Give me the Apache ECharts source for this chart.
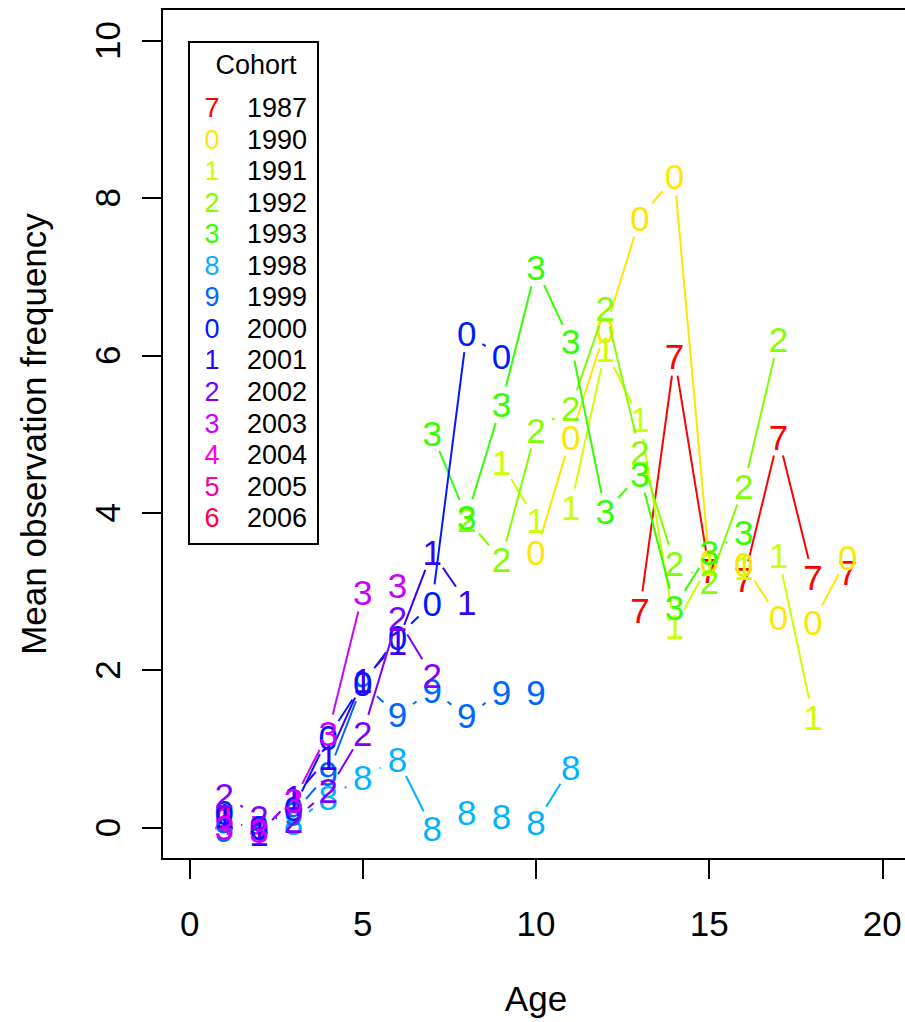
<!DOCTYPE html>
<html>
<head>
<meta charset="utf-8">
<script src="https://cdn.jsdelivr.net/npm/echarts@6/dist/echarts.min.js"></script>
<style>
html,body{margin:0;padding:0;background:#fff;overflow:hidden;}
#chart{width:905px;height:1022px;}
</style>
</head>
<body>
<div id="chart"></div>
<script>
// ---- data ----
var cohorts = ['1987','1990','1991','1992','1993','1998','1999','2000','2001','2002','2003','2004','2005','2006'];
var symbolsChar = ['7','0','1','2','3','8','9','0','1','2','3','4','5','6'];
var colors = ['#FF0000','#FFE600','#CCFF00','#80FF00','#33FF00','#00B3FF','#0066FF','#001AFF','#3300FF','#8000FF','#CC00FF','#FF00E6','#FF0099','#FF004D'];

var ages1987 = [13,14,15,16,17,18,19];
var vals1987 = [2.76,5.98,3.27,3.15,4.96,3.18,3.24];
var ages1990 = [10,11,12,13,14,15,16,17,18,19];
var vals1990 = [3.49,4.95,6.32,7.74,8.27,3.38,3.34,2.67,2.61,3.43];
var ages1991 = [9,10,11,12,13,14,15,16,17,18];
var vals1991 = [4.64,3.90,4.07,6.07,5.18,2.55,3.35,3.30,3.45,1.40];
var ages1992 = [8,9,10,11,12,13,14,15,16,17];
var vals1992 = [3.92,3.40,5.05,5.33,6.60,4.77,3.36,3.12,4.33,6.20];
var ages1993 = [7,8,9,10,11,12,13,14,15,16];
var vals1993 = [5.01,3.94,5.37,7.11,6.17,4.01,4.49,2.80,3.50,3.75];
var ages1998 = [2,3,4,5,6,7,8,9,10,11];
var vals1998 = [0.00,0.06,0.38,0.64,0.87,-0.01,0.19,0.14,0.06,0.76];
var ages1999 = [1,2,3,4,5,6,7,8,9,10];
var vals1999 = [-0.03,0.00,0.18,0.69,1.83,1.43,1.74,1.42,1.72,1.72];
var ages2000 = [1,2,3,4,5,6,7,8,9];
var vals2000 = [0.19,0.00,0.24,1.15,1.83,2.42,2.85,6.28,5.98];
var ages2001 = [1,2,3,4,5,6,7,8];
var vals2001 = [0.15,-0.08,0.38,0.89,1.87,2.35,3.50,2.86];
var ages2002 = [1,2,3,4,5,6,7];
var vals2002 = [0.41,0.13,0.09,0.47,1.20,2.66,1.93];
var ages2003 = [1,2,3,4,5,6];
var vals2003 = [0.00,-0.04,0.34,1.20,2.98,3.08];
var ages2004 = [1,2,3];
var vals2004 = [0.06,0.00,0.30];
var ages2005 = [1,2];
var vals2005 = [0.10,0.00];
var ages2006 = [1];
var vals2006 = [0.12];

var xTicks = [0,5,10,15,20];
var yTicks = [0,2,4,6,8,10];

var agesList = [ages1987,ages1990,ages1991,ages1992,ages1993,ages1998,ages1999,ages2000,ages2001,ages2002,ages2003,ages2004,ages2005,ages2006];
var valsList = [vals1987,vals1990,vals1991,vals1992,vals1993,vals1998,vals1999,vals2000,vals2001,vals2002,vals2003,vals2004,vals2005,vals2006];
// drawing order (youngest cohorts lie underneath in the reference)
var drawOrder = [13,12,11,0,1,2,3,4,5,6,7,8,9,10];

// ---- chart ----
var FONT = '"Liberation Sans", Arial, Helvetica, sans-serif';
var GAP = 19;

function makeSeries(k) {
  var ages = agesList[k], vals = valsList[k], col = colors[k], ch = symbolsChar[k];
  return {
    type: 'custom',
    name: cohorts[k],
    coordinateSystem: 'cartesian2d',
    clip: false,
    data: ages.map(function (a, i) { return [a, vals[i]]; }),
    renderItem: function (params, api) {
      var i = params.dataIndex;
      var p = api.coord([api.value(0), api.value(1)]);
      var children = [];
      if (i < ages.length - 1) {
        var q = api.coord([ages[i + 1], vals[i + 1]]);
        var dx = q[0] - p[0], dy = q[1] - p[1];
        var d = Math.sqrt(dx * dx + dy * dy);
        if (d > 2 * GAP) {
          var ux = dx / d, uy = dy / d;
          children.push({
            type: 'line',
            shape: { x1: p[0] + ux * GAP, y1: p[1] + uy * GAP, x2: q[0] - ux * GAP, y2: q[1] - uy * GAP },
            style: { stroke: col, lineWidth: 2 }
          });
        }
      }
      children.push({
        type: 'text',
        x: p[0], y: p[1],
        style: { text: ch, fill: col, fontSize: 35, fontFamily: FONT, align: 'center', verticalAlign: 'middle' }
      });
      return { type: 'group', children: children };
    }
  };
}

var series = drawOrder.map(function (k) { return makeSeries(k); });

// legend graphic
var legendChildren = [{
  type: 'rect', shape: { x: 189, y: 42, width: 129, height: 502 },
  style: { fill: '#fff', stroke: '#000', lineWidth: 2 }
}, {
  type: 'text', x: 256, y: 65,
  style: { text: 'Cohort', fill: '#000', fontSize: 27, fontFamily: FONT, align: 'center', verticalAlign: 'middle' }
}];
for (var j = 0; j < cohorts.length; j++) {
  var yy = 108 + j * 31.55;
  legendChildren.push({
    type: 'text', x: 212, y: yy,
    style: { text: symbolsChar[j], fill: colors[j], fontSize: 27, fontFamily: FONT, align: 'center', verticalAlign: 'middle' }
  });
  legendChildren.push({
    type: 'text', x: 247, y: yy,
    style: { text: cohorts[j], fill: '#000', fontSize: 27, fontFamily: FONT, align: 'left', verticalAlign: 'middle' }
  });
}

var chart = echarts.init(document.getElementById('chart'), null, { renderer: 'svg' });
chart.setOption({
  animation: false,
  backgroundColor: '#fff',
  grid: { left: 162, top: 9, width: 748, height: 850, show: true, borderColor: '#000', borderWidth: 2, backgroundColor: 'transparent', outerBoundsMode: 'none', containLabel: false },
  xAxis: {
    type: 'value', min: -0.8, max: 20.8,
    name: 'Age', nameLocation: 'middle', nameGap: 122,
    nameTextStyle: { fontSize: 35, fontFamily: FONT, color: '#000' },
    axisLine: { show: false, onZero: false },
    splitLine: { show: false },
    axisTick: { show: true, inside: false, length: 20, lineStyle: { color: '#000', width: 2 }, customValues: xTicks },
    axisLabel: { show: true, margin: 47, fontSize: 35, fontFamily: FONT, color: '#000', customValues: xTicks, formatter: function (v) { return String(v); } }
  },
  yAxis: {
    type: 'value', min: -0.4, max: 10.4,
    name: 'Mean observation frequency', nameLocation: 'middle', nameGap: 111, nameRotate: 90,
    nameTextStyle: { fontSize: 35, fontFamily: FONT, color: '#000' },
    axisLine: { show: false, onZero: false },
    splitLine: { show: false },
    axisTick: { show: true, inside: false, length: 20, lineStyle: { color: '#000', width: 2 }, customValues: yTicks },
    axisLabel: { show: true, margin: 37, rotate: 90, fontSize: 35, fontFamily: FONT, color: '#000', customValues: yTicks, formatter: function (v) { return String(v); } }
  },
  graphic: [{ type: 'group', children: legendChildren, z: 100 }],
  series: series
});
</script>
</body>
</html>
